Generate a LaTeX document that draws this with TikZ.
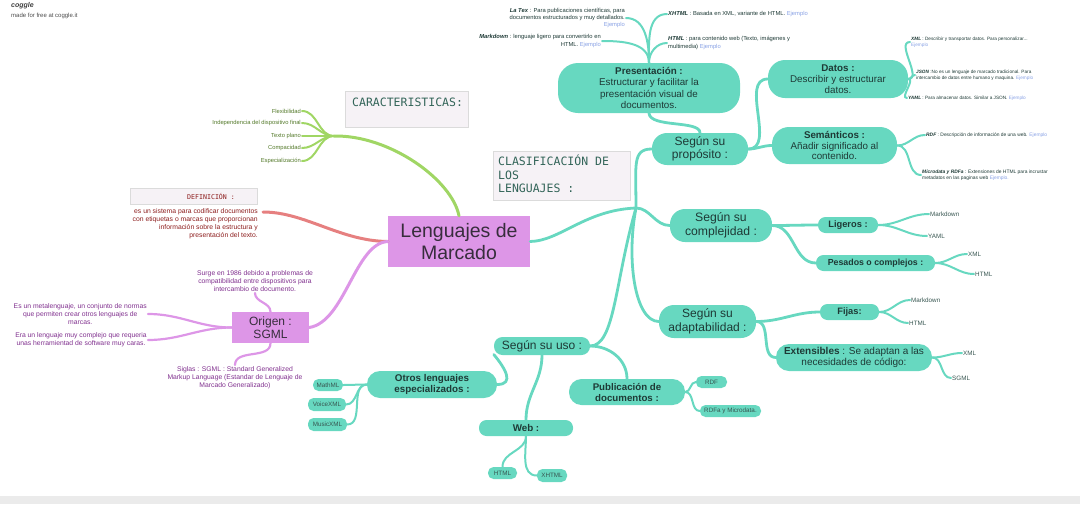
\documentclass[tikz,border=0pt]{standalone}
\usepackage{fontspec}
\setmainfont{Liberation Sans}
\setmonofont{DejaVu Sans Mono}
\usepackage{tikz}
\usetikzlibrary{positioning}
\definecolor{tealclr}{RGB}{103,216,192}
\definecolor{tealtxt}{RGB}{30,58,54}
\definecolor{leaftxt}{RGB}{55,85,80}
\definecolor{violclr}{RGB}{221,150,231}
\definecolor{violtxt}{RGB}{128,48,142}
\definecolor{roottxt}{RGB}{55,45,60}
\definecolor{redclr}{RGB}{230,128,128}
\definecolor{redtxt}{RGB}{140,28,28}
\definecolor{grnclr}{RGB}{160,214,100}
\definecolor{grntxt}{RGB}{82,120,40}
\definecolor{noteclr}{RGB}{246,242,246}
\definecolor{notetxt}{RGB}{50,100,88}
\definecolor{linkclr}{RGB}{135,160,228}
\definecolor{bandclr}{RGB}{235,235,235}
\tikzset{
  tbox/.style={fill=tealclr,text=tealtxt,align=center,inner sep=0pt,
               rounded corners=#1},
  tbox/.default=15pt,
  tpill/.style={tbox=5.5pt,minimum height=12pt,font=\fs{6.3}{7.5},text=leaftxt},
  vbox/.style={fill=violclr,text=roottxt,align=center,inner sep=0pt},
  leafword/.style={inner sep=1pt,font=\fs{6.3}{7.5},text=leaftxt,anchor=west},
  infotxt/.style={inner sep=1pt,font=\fs{5.8}{7.2},text=tealtxt},
  notebox/.style={fill=noteclr,draw=black!14,line width=0.6pt,inner sep=0pt},
  tbranch/.style={draw=tealclr,line width=2.8pt,line cap=round},
  tfork/.style={draw=tealclr,line width=2pt,line cap=round},
}
\newcommand{\fs}[2]{\fontsize{#1}{#2}\selectfont}
\newcommand{\ej}{\textcolor{linkclr}{Ejemplo}}
\newcommand{\key}[1]{\textbf{\textit{#1}}}

\begin{document}
\begin{tikzpicture}[x=1pt,y=1pt,
    vbranch/.style={draw=violclr,line width=3pt,line cap=round},
    vfork/.style={draw=violclr,line width=2.2pt,line cap=round},
    rbranch/.style={draw=redclr,line width=3pt,line cap=round},
    gbranch/.style={draw=grnclr,line width=3pt,line cap=round},
    gfork/.style={draw=grnclr,line width=2pt,line cap=round},
    origtxt/.style={align=center,inner sep=1pt,font=\fs{6.8}{8},text=violtxt},
    cartxt/.style={anchor=east,inner sep=1pt,font=\fs{5.8}{6.5},text=grntxt},
  ]
\useasboundingbox (0,0) rectangle (1080,-504);
\fill[bandclr] (0,-496) rectangle (1080,-504);

\node[anchor=west,inner sep=0pt,font=\fs{7}{8}\bfseries\itshape,text=black!75] (logo) at (11,-6) {coggle};
\node[anchor=west,inner sep=0pt,font=\fs{6}{7},text=black!70] (madefor) at (11,-16) {made for free at coggle.it};

% notas
\node[notebox,minimum width=123pt,minimum height=36pt] (caract) at (406.5,-109) {};
\node[anchor=north west,inner sep=0pt,font=\fs{11.5}{13.5}\ttfamily,text=notetxt] (caracttxt) at (352,-97.5) {CARACTERISTICAS:};
\node[notebox,minimum width=137pt,minimum height=49pt] (clasif) at (561.5,-175.5) {};
\node[anchor=north west,inner sep=0pt,align=left,font=\fs{11.5}{13.5}\ttfamily,text=notetxt] (clasiftxt) at (498,-155) {CLASIFICACIÓN DE\\LOS\\LENGUAJES :};
\node[notebox,minimum width=127pt,minimum height=16pt] (defin) at (193.5,-196) {};
\node[anchor=west,inner sep=0pt,font=\fs{6.6}{8}\ttfamily,text=redtxt] (defintxt) at (187,-196) {DEFINICIÓN :};

% centro
\node[vbox,minimum width=142pt,minimum height=51pt,font=\fs{19.5}{22.5}] (root) at (459,-241.5) {Lenguajes de\\Marcado};
\node[vbox,minimum width=77pt,minimum height=31pt,font=\fs{12}{13.5}] (origen) at (270.5,-327.5) {Origen :\\SGML};

\node[anchor=north east,inner sep=0pt,align=right,font=\fs{6.8}{8},text=redtxt] (deftxt) at (258,-208) {es un sistema para codificar documentos\\con etiquetas o marcas que proporcionan\\información sobre la estructura y\\presentación del texto.};
\coordinate (defend) at (263,-212);

\node[cartxt] (flex)   at (302,-111) {Flexibilidad};
\node[cartxt] (indep)  at (302,-123) {Independencia del dispositivo final};
\node[cartxt] (plano)  at (302,-136) {Texto plano};
\node[cartxt] (compac) at (302,-148) {Compacidad};
\node[cartxt] (espec)  at (302,-161) {Especialización};
\coordinate (carhub) at (334,-136);

\node[origtxt,anchor=south] (surge)  at (255,-293) {Surge en 1986 debido a problemas de\\compatibilidad entre dispositivos para\\intercambio de documento.};
\node[origtxt,anchor=east]  (metal)  at (148,-314) {Es un metalenguaje, un conjunto de normas\\que permiten crear otros lenguajes de\\marcas.};
\node[origtxt,anchor=east]  (era)    at (148,-340) {Era un lenguaje muy complejo que requeria\\unas herramientad de software muy caras.};
\node[origtxt,anchor=north] (siglas) at (235,-365) {Siglas : SGML : Standard Generalized\\Markup Language (Estandar de Lenguaje de\\Marcado Generalizado)};

% clasificacion
\coordinate (hub) at (636,-208);
\node[tbox=20pt,minimum width=182pt,minimum height=50pt,font=\fs{9.8}{11.3}] (presentacion) at (649,-88) {\textbf{Presentación :}\\Estructurar y facilitar la\\presentación visual de\\documentos.};
\node[tbox,minimum width=96pt,minimum height=32pt,font=\fs{12}{13.5}] (proposito) at (700,-149) {Según su\\propósito :};
\node[tbox=17pt,minimum width=140pt,minimum height=38pt,font=\fs{9.8}{10.9}] (datos) at (838,-79) {\textbf{Datos :}\\Describir y estructurar\\datos.};
\node[tbox=17pt,minimum width=125pt,minimum height=37pt,font=\fs{9.8}{10.9}] (semanticos) at (834.5,-145.5) {\textbf{Semánticos :}\\Añadir significado al\\contenido.};
\node[tbox,minimum width=102pt,minimum height=33pt,font=\fs{12.2}{13.7}] (complejidad) at (721,-225.5) {Según su\\complejidad :};
\node[tbox=7.5pt,minimum width=60pt,minimum height=16pt,font=\fs{9.3}{11}\bfseries] (ligeros) at (848,-225) {Ligeros :};
\node[tbox=7.5pt,minimum width=119pt,minimum height=16pt,font=\fs{8.8}{10}\bfseries] (pesados) at (875.5,-263) {Pesados o complejos :};
\node[tbox,minimum width=97pt,minimum height=33pt,font=\fs{12}{13.5}] (adaptabilidad) at (707.5,-321.5) {Según su\\adaptabilidad :};
\node[tbox=7.5pt,minimum width=59pt,minimum height=16pt,font=\fs{9.3}{11}\bfseries] (fijas) at (849.5,-312) {Fijas:};
\node[tbox=13pt,minimum width=156pt,minimum height=27pt,font=\fs{10}{11}] (extensibles) at (854,-357.5) {\textbf{Extensibles} : Se adaptan a las\\necesidades de código:};
\node[tbox=8.5pt,minimum width=96pt,minimum height=18pt,font=\fs{12}{13.5}] (uso) at (542,-346) {Según su uso :};
\node[tbox=13pt,minimum width=130pt,minimum height=27pt,font=\fs{9.8}{11.7}\bfseries] (otros) at (432,-384.5) {Otros lenguajes\\especializados :};
\node[tbox=7.5pt,minimum width=94pt,minimum height=16pt,font=\fs{9.8}{11}\bfseries] (web) at (526,-428) {Web :};
\node[tbox=12.5pt,minimum width=116pt,minimum height=26pt,font=\fs{9.7}{11}\bfseries] (publicacion) at (627,-392) {Publicación de\\documentos :};

\node[tpill,minimum width=30pt] (mathml)   at (328,-385)   {MathML};
\node[tpill,minimum width=38pt,minimum height=13pt] (voicexml) at (327,-404.5) {VoiceXML};
\node[tpill,minimum width=39pt,minimum height=13pt] (musicxml) at (327.5,-424.5) {MusicXML};
\node[tpill,minimum width=29pt] (webhtml)  at (502.5,-473) {HTML};
\node[tpill,minimum width=30pt,minimum height=13pt] (webxhtml) at (552,-475.5) {XHTML};
\node[tpill,minimum width=31pt] (rdfpill)  at (711.5,-382) {RDF};
\node[tpill,minimum width=61pt] (rdfapill) at (730.5,-411) {RDFa y Microdata.};

\node[infotxt,anchor=east,align=right] (latex)     at (626,-18) {\key{La Tex} : Para publicaciones científicas, para\\documentos estructurados y muy detallados.\\\ej};
\node[infotxt,anchor=east,align=right] (mdpres)    at (602,-41) {\key{Markdown} : lenguaje ligero para convertirlo en\\HTML. \ej};
\node[infotxt,anchor=west,align=left]  (xhtmlpres) at (667,-14) {\key{XHTML} : Basada en XML, variante de HTML. \ej};
\node[infotxt,anchor=west,align=left]  (htmlpres)  at (667,-43) {\key{HTML} : para contenido web (Texto, imágenes y\\multimedia) \ej};

\node[infotxt,font=\fs{4.7}{6},anchor=west,align=left] (xmldat)  at (910,-42) {\key{XML} : Describir y transportar datos. Para personalizar...\\\ej};
\node[infotxt,font=\fs{4.7}{6},anchor=west,align=left] (jsondat) at (915,-75) {\key{JSON} :No es un lenguaje de marcado tradicional. Para\\intercambio de datos entre humano y maquina. \ej};
\node[infotxt,font=\fs{4.7}{6},anchor=west,align=left] (yamldat) at (907,-98) {\key{YAML} : Para almacenar datos. Similar a JSON. \ej};
\node[infotxt,font=\fs{4.9}{6.5},anchor=west,align=left] (rdfsem)   at (925,-135) {\key{RDF} : Descripción de información de una web. \ej};
\node[infotxt,font=\fs{4.9}{6.5},anchor=west,align=left] (microsem) at (921,-175) {\key{Microdata y RDFa} : Extensiones de HTML para incrustar\\metadatos en las paginas web \textcolor{linkclr}{Ejemplo.}};

\node[leafword] (md1)   at (929,-214) {Markdown};
\node[leafword] (yaml1) at (927,-236) {YAML};
\node[leafword] (xml1)  at (967,-254) {XML};
\node[leafword] (html1) at (974,-274) {HTML};
\node[leafword] (md2)   at (910,-300) {Markdown};
\node[leafword] (html2) at (908,-323) {HTML};
\node[leafword] (xml2)  at (962,-353) {XML};
\node[leafword] (sgml2) at (951,-378) {SGML};

% ramas
\draw[gbranch] (root.north) .. controls (452,-180) and (390,-135) .. (carhub);
\draw[gfork] (carhub) to[out=180,in=0] (flex.east);
\draw[gfork] (carhub) to[out=180,in=0] (indep.east);
\draw[gfork] (carhub) to[out=180,in=0] (plano.east);
\draw[gfork] (carhub) to[out=180,in=0] (compac.east);
\draw[gfork] (carhub) to[out=180,in=0] (espec.east);

\draw[rbranch] (root.west) .. controls (340,-241) and (305,-212) .. (defend);

\draw[vbranch] (root.west) .. controls (355,-243) and (345,-322) .. (origen.east);
\draw[vfork] (origen.north) to[out=90,in=-90] (surge.south);
\draw[vfork] (origen.south) to[out=-90,in=90] (siglas.north);
\draw[vfork] (origen.west) to[out=180,in=0] (metal.east);
\draw[vfork] (origen.west) to[out=180,in=0] (era.east);

\draw[tbranch] (root.east) .. controls (560,-241) and (585,-210) .. (hub);
\draw[tbranch] (hub) .. controls (636,-165) and (632,-149) .. (proposito.west);
\draw[tbranch] (hub) .. controls (650,-208) and (655,-225.5) .. (complejidad.west);
\draw[tbranch] (hub) .. controls (626,-260) and (635,-321.5) .. (adaptabilidad.west);
\draw[tbranch] (hub) .. controls (615,-280) and (615,-346) .. (uso.east);

\draw[tbranch] (proposito.north) .. controls (700,-120) and (650,-128) .. (presentacion.south);
\draw[tfork] (presentacion.north) to[out=90,in=0] (latex.east);
\draw[tfork] (presentacion.north) to[out=90,in=0] (mdpres.east);
\draw[tfork] (presentacion.north) to[out=90,in=180] (xhtmlpres.west);
\draw[tfork] (presentacion.north) to[out=90,in=180] (htmlpres.west);
\draw[tbranch] (proposito.east) to[out=0,in=180] (datos.west);
\draw[tbranch] (proposito.east) to[out=0,in=180] (semanticos.west);
\draw[tfork] (datos.east) to[out=0,in=180] (xmldat.west);
\draw[tfork] (datos.east) to[out=0,in=180] (jsondat.west);
\draw[tfork] (datos.east) to[out=0,in=180] (yamldat.west);
\draw[tfork] (semanticos.east) to[out=0,in=180] (rdfsem.west);
\draw[tfork] (semanticos.east) to[out=0,in=180] (microsem.west);

\draw[tbranch] (complejidad.east) to[out=0,in=180] (ligeros.west);
\draw[tbranch] (complejidad.east) to[out=0,in=180] (pesados.west);
\draw[tfork] (ligeros.east) to[out=0,in=180] (md1.west);
\draw[tfork] (ligeros.east) to[out=0,in=180] (yaml1.west);
\draw[tfork] (pesados.east) to[out=0,in=180] (xml1.west);
\draw[tfork] (pesados.east) to[out=0,in=180] (html1.west);

\draw[tbranch] (adaptabilidad.east) to[out=0,in=180] (fijas.west);
\draw[tbranch] (adaptabilidad.east) to[out=0,in=180] (extensibles.west);
\draw[tfork] (fijas.east) to[out=0,in=180] (md2.west);
\draw[tfork] (fijas.east) to[out=0,in=180] (html2.west);
\draw[tfork] (extensibles.east) to[out=0,in=180] (xml2.west);
\draw[tfork] (extensibles.east) to[out=0,in=180] (sgml2.west);

\draw[tbranch] (uso.190) .. controls (505,-368) and (515,-384.5) .. (otros.east);
\draw[tbranch] (uso.south) to[out=-90,in=90] (web.north);
\draw[tbranch] (uso.east) to[out=0,in=90] (publicacion.north);
\draw[tfork] (otros.west) to[out=180,in=0] (mathml.east);
\draw[tfork] (otros.west) to[out=180,in=0] (voicexml.east);
\draw[tfork] (otros.west) to[out=180,in=0] (musicxml.east);
\draw[tfork] (web.south) to[out=-90,in=90] (webhtml.north);
\draw[tfork] (web.south) to[out=-90,in=180] (webxhtml.west);
\draw[tfork] (publicacion.east) to[out=0,in=180] (rdfpill.west);
\draw[tfork] (publicacion.east) to[out=0,in=180] (rdfapill.west);
\end{tikzpicture}
\end{document}
